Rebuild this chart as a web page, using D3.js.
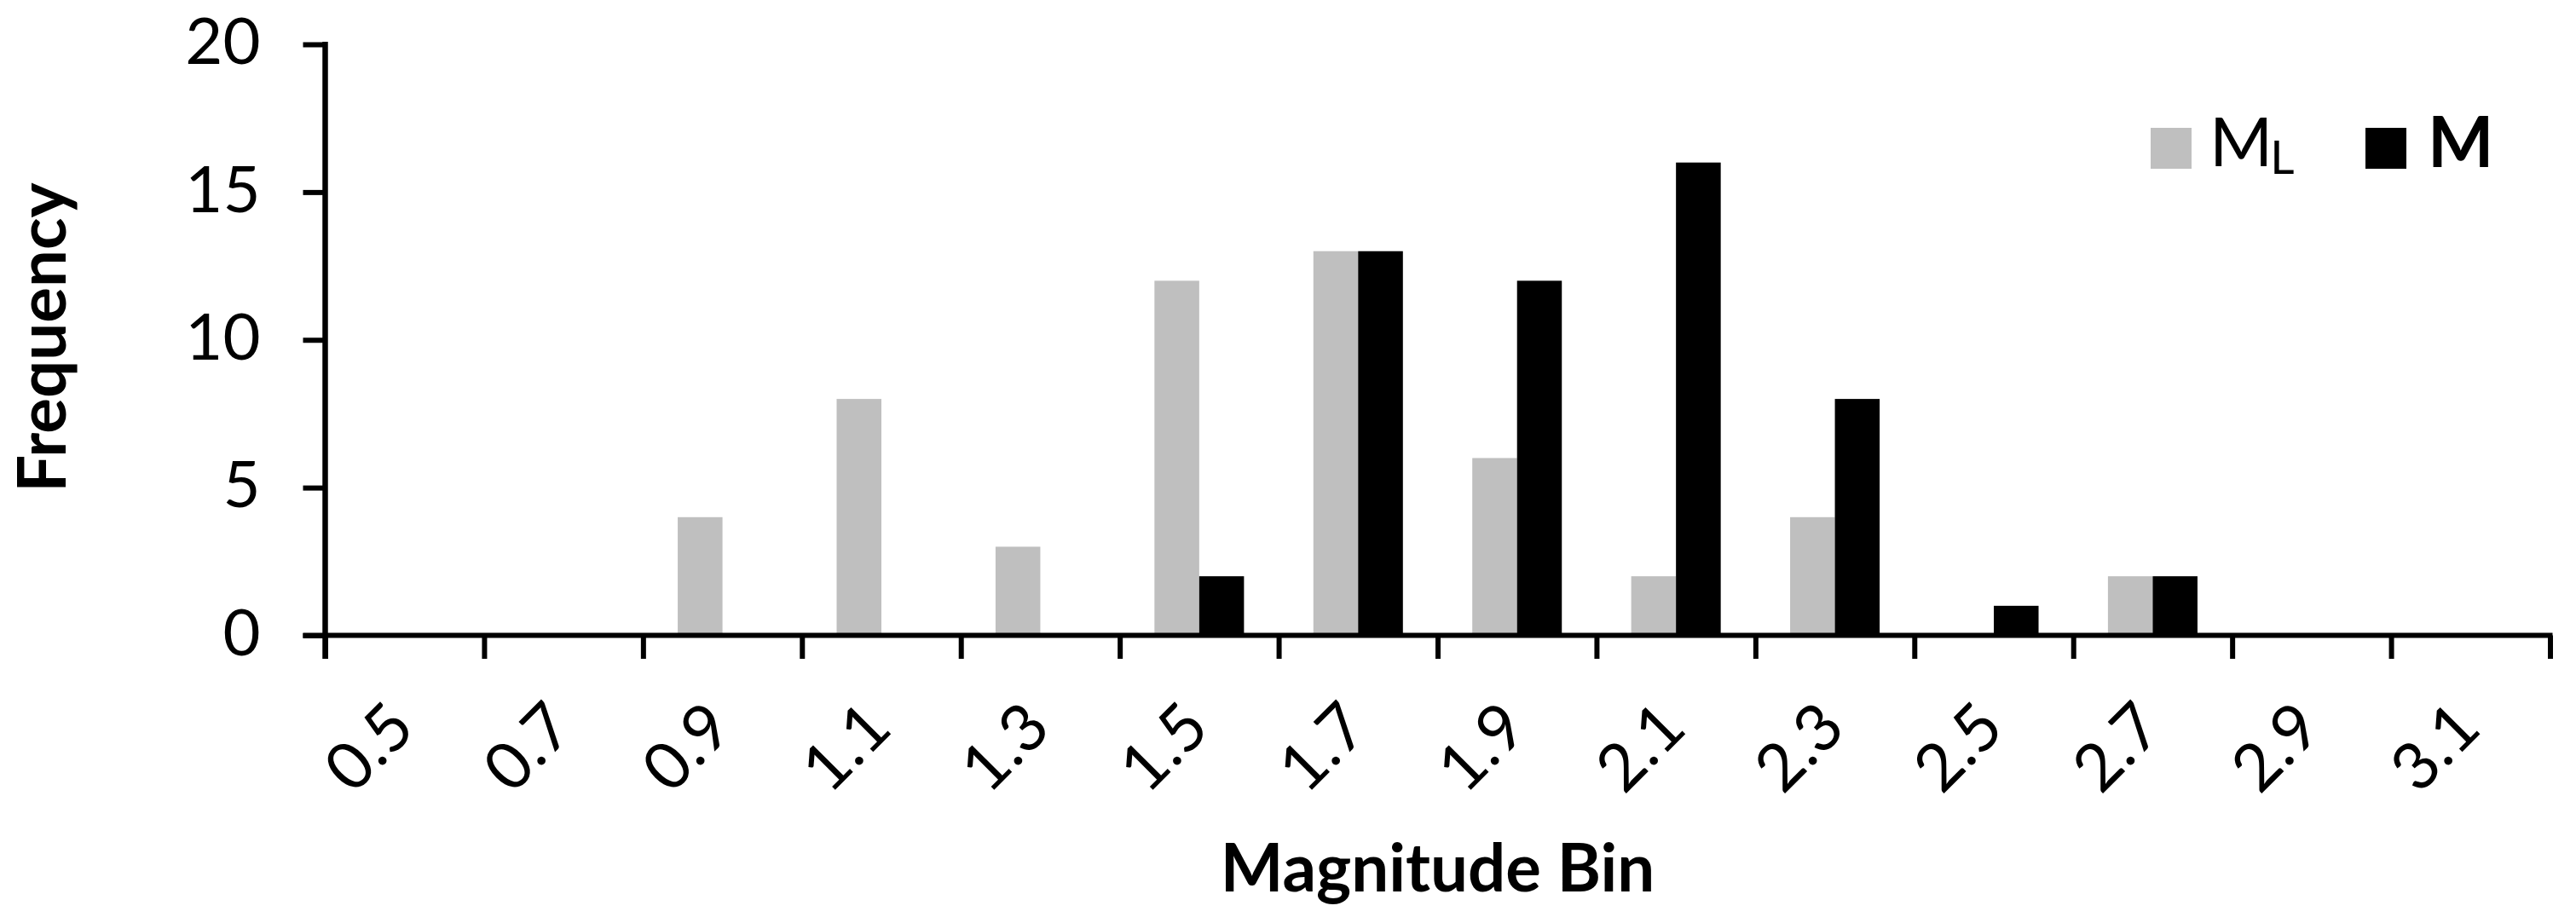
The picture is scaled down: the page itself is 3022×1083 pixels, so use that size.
<!DOCTYPE html>
<html>
<head>
<meta charset="utf-8">
<script src="https://cdn.jsdelivr.net/npm/d3@7"></script>
<style>
  html, body { margin: 0; padding: 0; background: #fff; }
  svg { display: block; }
  text { font-family: Lato, "Open Sans", sans-serif; fill: #000; }
</style>
</head>
<body>
<svg id="chart" width="3022" height="1083"></svg>
<script>
// ---- data ----
const categories = ["0.5", "0.7", "0.9", "1.1", "1.3", "1.5", "1.7", "1.9", "2.1", "2.3", "2.5", "2.7", "2.9", "3.1"];
const seriesNames = ["ML", "M"];
const valuesML = [0, 0, 4, 8, 3, 12, 13, 6, 2, 4, 0, 2, 0, 0];
const valuesM  = [0, 0, 0, 0, 0, 2, 13, 12, 16, 8, 1, 2, 0, 0];
const yTickValues = [0, 5, 10, 15, 20];
const colors = { ML: "#bfbfbf", M: "#000000" };

// ---- layout ----
const W = 3022, H = 1083;
const plot = { left: 381.5, right: 2991.5, top: 52, bottom: 745.5 };
const svg = d3.select("#chart");

const x = d3.scaleBand().domain(categories).range([plot.left, plot.right]).paddingInner(0).paddingOuter(0);
const xEdge = d3.scaleLinear().domain([0, categories.length]).range([plot.left, plot.right]);
const y = d3.scaleLinear().domain([0, 20]).range([plot.bottom, plot.top]);
const groupW = x.bandwidth() * 0.5634;
const x1 = d3.scaleBand().domain(seriesNames).range([-groupW / 2, groupW / 2]).padding(0);

const table = categories.map((c, i) => ({ cat: c, ML: valuesML[i], M: valuesM[i] }));

// ---- bars ----
const g = svg.append("g");
table.forEach(row => {
  seriesNames.forEach(s => {
    if (row[s] > 0) {
      g.append("rect")
        .attr("x", x(row.cat) + x.bandwidth() / 2 + x1(s))
        .attr("width", x1.bandwidth())
        .attr("y", y(row[s]))
        .attr("height", y(0) - y(row[s]))
        .attr("fill", colors[s]);
    }
  });
});

// ---- y axis ----
const yAxis = svg.append("g")
  .attr("transform", `translate(${plot.left},0)`)
  .call(d3.axisLeft(y).tickValues(yTickValues).tickSize(26).tickSizeOuter(0).tickPadding(50));
yAxis.select(".domain").attr("stroke", "#000").attr("stroke-width", 6.5)
  .attr("d", `M0,${plot.top - 3}V${plot.bottom + 27.5}`);
yAxis.selectAll(".tick line").attr("stroke", "#000").attr("stroke-width", 6);
yAxis.selectAll(".tick text").attr("font-size", 76).attr("font-family", "Lato").attr("dy", "0.3em").attr("fill", "#000");

// ---- x axis ----
const xAxis = svg.append("g")
  .attr("transform", `translate(0,${plot.bottom})`)
  .call(d3.axisBottom(xEdge).tickValues(d3.range(categories.length + 1)).tickSize(27.5).tickSizeOuter(0).tickFormat(""));
xAxis.select(".domain").attr("stroke", "#000").attr("stroke-width", 6)
  .attr("d", `M${plot.left - 26},0H${plot.right + 3}`);
xAxis.selectAll(".tick line").attr("stroke", "#000").attr("stroke-width", 6);

// rotated category labels
svg.append("g").selectAll("text")
  .data(categories)
  .join("text")
  .attr("transform", d => `translate(${x(d) + x.bandwidth() / 2 + 15},${plot.bottom + 112})rotate(-45)`)
  .attr("text-anchor", "end")
  .attr("font-size", 77)
  .text(d => d);

// ---- axis titles ----
svg.append("text")
  .attr("x", (plot.left + plot.right) / 2)
  .attr("y", 1046)
  .attr("text-anchor", "middle")
  .attr("font-weight", "bold")
  .attr("font-size", 78)
  .text("Magnitude Bin");

svg.append("text")
  .attr("transform", `translate(77,396)rotate(-90)`)
  .attr("text-anchor", "middle")
  .attr("font-weight", "bold")
  .attr("font-size", 78)
  .text("Frequency");

// ---- legend ----
const legend = svg.append("g");
legend.append("rect").attr("x", 2523).attr("y", 150).attr("width", 48).attr("height", 48).attr("fill", colors.ML);
const t1 = legend.append("text").attr("x", 2592).attr("y", 195).attr("font-size", 80);
t1.append("tspan").text("M");
t1.append("tspan").attr("font-size", 55).attr("dx", -3).attr("dy", 9).text("L");
legend.append("rect").attr("x", 2775).attr("y", 150).attr("width", 48).attr("height", 48).attr("fill", colors.M);
legend.append("text").attr("x", 2848).attr("y", 196).attr("font-size", 82).attr("font-weight", "bold").text("M");
</script>
</body>
</html>
